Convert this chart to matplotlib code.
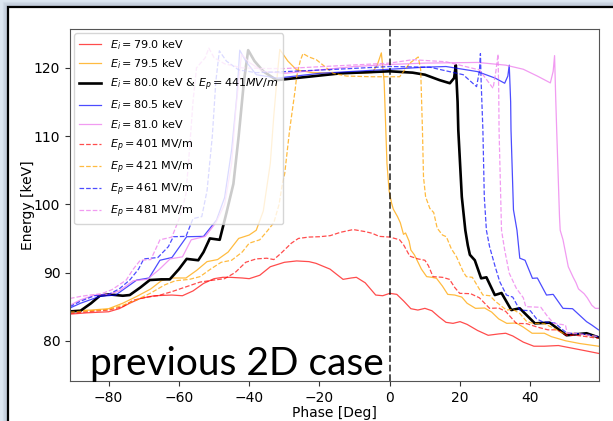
import matplotlib
matplotlib.use("Agg")
import matplotlib.pyplot as plt
from matplotlib.patches import Rectangle

# ---- data: phase [deg] and energy [keV] for each run ----
ph_ei790 = [-91, -86, -80, -77, -74, -71, -67, -62, -59, -56, -53, -50, -47.5, -45.5, -42, -40, -37, -34, -30,
            -26.5, -23, -21, -17, -13.3, -11, -9.5, -7, -4, -2, 0, 2, 4, 6, 8, 10, 12, 14, 16, 18, 20, 22, 25,
            28, 31, 33, 35, 38, 41, 44, 48, 52, 56, 59.4]
e_ei790 = [83.9, 84.1, 84.25, 84.7, 85.5, 86.2, 86.6, 86.7, 86.6, 87.3, 88.4, 89.1, 89.3, 89.3, 89.2, 89.1, 89.6,
           90.85, 91.5, 91.7, 91.6, 91.35, 90.5, 89.0, 89.2, 89.3, 88.5, 86.7, 86.6, 86.95, 86.8, 85.8, 84.7,
           84.5, 84.75, 84.4, 83.5, 82.7, 82.55, 82.8, 82.4, 81.5, 80.8, 81.0, 81.1, 80.7, 79.8, 79.2, 79.2,
           79.3, 78.9, 78.5, 78.15]

ph_ei795 = [-91, -85, -80, -76, -72, -68, -65, -62, -58, -55, -52, -49, -46, -43, -40, -38, -36, -34, -33, -32,
            -31.3, -29, -26.5, -22, -15, -8, -5, -3.5, -2.4, -1.6, -1.2, -0.8, -0.2, 0.5, 1, 2.2, 3, 3.9, 4.5,
            5.5, 6, 7, 9, 10.5, 12, 13.3, 15, 16.5, 18.5, 20.5, 22, 24.4, 27, 29, 31, 33.3, 36, 38, 40.5, 44,
            46, 50, 54, 59.4]
e_ei795 = [84.4, 84.5, 84.7, 85.5, 86.5, 87.6, 88.8, 89.2, 89.2, 90.3, 91.6, 91.9, 93.0, 95.0, 95.5, 96.2, 99,
           106, 113, 119, 122.7, 121, 119.7, 119.3, 119.2, 119.2, 119.3, 120.5, 122.2, 118, 112, 106, 102,
           100.2, 99.3, 98.2, 97.3, 95.6, 95.8, 94.6, 93.3, 92.6, 90.5, 89.4, 89.3, 89.15, 88.0, 86.8, 86.7,
           86.4, 85.5, 84.75, 84.8, 84.2, 83.2, 82.55, 82.6, 82.0, 81.1, 81.1, 80.6, 80.0, 79.6, 79.2]

ph_ei800 = [-91, -88, -85, -82.5, -80, -76, -74, -71, -68.3, -65, -62.6, -60, -57.8, -54.5, -53, -51.2, -48.4,
            -46.5, -44.5, -43, -41.5, -40.3, -38.5, -36, -32.2, -25, -14, 0, 6.5, 10, 14.2, 17.1, 18.3, 18.8,
            19.3, 19.5, 20.5, 21.5, 22.2, 22.8, 24.2, 26.0, 27.5, 29.9, 31.8, 34.6, 37, 41.3, 45.5, 50.3, 56,
            59.4]
e_ei800 = [84.3, 84.4, 85.5, 86.6, 86.8, 86.6, 86.7, 87.8, 88.9, 89.0, 89.0, 90.5, 92.0, 91.8, 93, 95.0, 94.8,
           98.7, 103, 110, 118, 122.6, 121, 119.5, 118.2, 118.6, 119.2, 119.5, 119.3, 119.0, 118.2, 117.75,
           118.5, 120.4, 115, 110.9, 101.1, 96.2, 94.0, 92.6, 91.8, 89.15, 89.3, 86.7, 87.0, 84.5, 84.75,
           82.55, 82.65, 80.8, 81.1, 80.5]

ph_ei805 = [-91, -88, -82.5, -78, -75, -72, -68.5, -65.4, -62, -57.8, -53, -49.3, -47, -45, -43.5, -42.7, -41,
            -38, -32, -20, 0, 10, 16, 25, 30, 32.7, 33.6, 34, 34.4, 34.5, 35.2, 36.2, 37, 38.5, 40.6, 42, 44.6,
            46.5, 49.3, 52, 56, 57.5, 59.4]
e_ei805 = [84.8, 85.5, 86.5, 86.7, 87.8, 88.9, 89.2, 91.8, 92.2, 95.25, 95.3, 97.7, 101, 108, 116, 122.6, 121,
           119, 118.5, 119.2, 119.8, 120.1, 120.2, 119.45, 118.5, 117.75, 118.8, 120.4, 115, 110.9, 99.2, 96.2,
           92.1, 91.8, 89.15, 89.2, 86.7, 86.8, 84.75, 84.7, 82.8, 82.3, 81.6]

ph_ei810 = [-91, -88, -84, -80, -77, -73, -69, -65.5, -62.5, -59, -56.5, -52.5, -49.5, -47, -45, -43.8, -42.2,
            -40, -36, -30, -20, -10, 0, 10, 25, 33, 38, 42, 45.7, 46.5, 46.9, 47.2, 47.5, 48.3, 48.5, 49.3,
            50.8, 52.2, 53, 53.7, 55.3, 56.2, 57.5, 58.5, 59.4]
e_ei810 = [85.2, 86.0, 86.7, 86.8, 87.3, 88.8, 89.0, 90.5, 92.0, 92.3, 94.8, 95.3, 97.3, 100, 106, 114, 122.0,
           120.8, 119.5, 119.2, 119.7, 120.2, 120.5, 120.7, 120.8, 120.4, 119.8, 118.8, 117.8, 119.5, 121.8,
           116, 110.9, 98.2, 96.2, 94.8, 90.85, 89.3, 88.5, 87.6, 86.9, 86.3, 85.2, 84.75, 84.75]

ph_ep401 = [-91, -85, -80, -76, -73, -69, -66, -62, -58, -54, -50, -47, -44, -41, -38, -35, -33, -31, -28, -26,
            -23, -20, -17, -14, -10.4, -7, -5, -3, 0, 2.8, 4, 5.7, 8, 10, 11, 12.3, 15, 17, 18.5, 19.9, 23,
            25.5, 28.4, 31, 33, 36, 39, 42, 45, 47.5, 50.3, 53, 56, 59.4]
e_ep401 = [84.0, 84.3, 84.5, 85.0, 85.95, 86.4, 86.6, 87.2, 87.9, 88.6, 88.9, 89.1, 90.0, 91.5, 92.0, 92.1,
           91.9, 92.8, 94.3, 95.0, 95.2, 95.25, 95.4, 95.9, 96.3, 96.0, 95.75, 95.3, 95.2, 94.8, 94.0, 92.4,
           92.0, 91.8, 91.0, 89.4, 89.3, 89.0, 87.8, 86.95, 86.9, 86.3, 84.75, 84.8, 84.3, 82.55, 82.5, 82.0,
           81.6, 81.6, 80.8, 80.8, 80.6, 80.35]

ph_ep421 = [-91, -85, -80, -76, -72, -68, -64, -61, -57, -54, -51, -48, -45, -42, -40, -37, -35, -33, -31.5,
            -30.5, -29.9, -28.5, -27, -26.5, -25.5, -24.7, -23, -20.9, -18.5, -16.1, -12.3, -5, 0, 2.8, 5.7,
            8.1, 8.8, 9.3, 9.6, 10.2, 11.4, 12.5, 13.5, 15, 16.1, 17.5, 19, 21, 21.8, 23.5, 25, 26.5, 28.5,
            30, 33.2, 35, 37, 39, 40.8, 44, 46, 49.3, 53, 56, 59.4]
e_ep421 = [84.2, 84.4, 84.6, 85.2, 86.0, 87.0, 88.2, 88.8, 89.0, 89.4, 90.5, 91.5, 91.8, 93, 94.3, 94.8, 96,
           97.3, 100, 103.2, 104.5, 110.9, 116.5, 118.7, 121, 122.1, 121.6, 121.2, 120.2, 119.2, 118.8, 118.7,
           118.7, 118.7, 120.7, 121.6, 119.7, 110.9, 104, 101.1, 99.4, 98.8, 96.5, 95.5, 95.25, 93.5, 92.3,
           90.0, 89.4, 89.3, 88.0, 86.7, 86.6, 85.8, 84.5, 84.6, 84.0, 82.8, 82.55, 82.5, 82.0, 81.1, 81.1,
           80.8, 80.6]

ph_ep461 = [-91, -88, -84, -80, -77, -74, -71.5, -70, -66, -63, -61.6, -58, -56, -53.5, -52, -50.5, -49.5,
            -48.5, -46.5, -43, -38, -30, -15, 0, 11.4, 20.9, 24.7, 25.5, 25.8, 26.0, 26.5, 26.9, 27.5, 28.4,
            30, 31.3, 33.2, 35, 37.0, 40, 41.8, 43.4, 47, 49, 50.5, 53, 56, 59.4]
e_ep461 = [85.0, 85.8, 86.6, 86.8, 87.6, 88.9, 90.5, 92.0, 92.2, 93.8, 95.25, 95.3, 97.9, 98.2, 102, 110, 118,
           122.5, 121, 119.7, 119.3, 119.45, 119.8, 120.2, 120.1, 119.0, 117.25, 119.5, 122.1, 118, 110.9,
           101.1, 96.2, 93.8, 90.85, 88.65, 86.7, 86.4, 84.5, 84.4, 83.2, 82.8, 82.6, 81.7, 81.1, 81.1, 80.9,
           80.6]

ph_ep481 = [-91, -88, -85.3, -82, -79, -75, -73, -71, -68, -65.4, -62, -59.7, -58, -57, -56, -55, -52.5, -51.5,
            -50, -47, -42, -35, -30, -15, 0, 6.5, 16, 25.5, 29.4, 30.2, 30.8, 31, 31.1, 31.8, 32.7, 34, 36,
            38, 38.7, 43, 45, 46.7, 50, 50.5, 54, 59.4]
e_ep481 = [86.2, 86.5, 86.7, 86.9, 87.5, 88.9, 90.5, 91.8, 91.9, 94.8, 95.2, 98.2, 101.5, 108, 115, 120, 121.5,
           122.9, 121.5, 120.6, 120.0, 119.9, 119.9, 120.3, 120.7, 121.2, 120.9, 119.7, 117.0, 119.5, 122.0,
           117, 110.9, 96.2, 93.3, 89.9, 87.7, 86.3, 85.0, 84.9, 83.5, 82.55, 82.3, 81.1, 81.0, 80.6]

labels = [r"$E_i = 79.0$ keV", r"$E_i = 79.5$ keV", r"$E_i = 80.0$ keV & $E_p = 441 MV/m$",
          r"$E_i = 80.5$ keV", r"$E_i = 81.0$ keV", r"$E_p = 401$ MV/m", r"$E_p = 421$ MV/m",
          r"$E_p = 461$ MV/m", r"$E_p = 481$ MV/m"]

series = [(ph_ei790, e_ei790, "red", "-", 0.9, 0.7),
          (ph_ei795, e_ei795, "orange", "-", 0.9, 0.75),
          (ph_ei800, e_ei800, "black", "-", 1.9, 1.0),
          (ph_ei805, e_ei805, "blue", "-", 0.9, 0.7),
          (ph_ei810, e_ei810, "violet", "-", 0.9, 0.8),
          (ph_ep401, e_ep401, "red", "--", 0.9, 0.7),
          (ph_ep421, e_ep421, "orange", "--", 0.9, 0.75),
          (ph_ep461, e_ep461, "blue", "--", 0.9, 0.7),
          (ph_ep481, e_ep481, "violet", "--", 0.9, 0.8)]

W, H = 613, 421
fig = plt.figure(figsize=(W / 100, H / 100), dpi=100, facecolor="#dce6f1")

# slide panel with a soft shadow and a dark border
for k, a in enumerate([0.05, 0.08, 0.12]):
    off = (3 - k) * 1.5
    fig.patches.append(Rectangle(((8 - off) / W, 0), 1, (H - 7 + off) / H, transform=fig.transFigure,
                                 facecolor="none", edgecolor=(0.3, 0.35, 0.45, a), lw=2.5, zorder=-2))
fig.patches.append(Rectangle((8 / W, -0.01), 1, (H - 7) / H + 0.01, transform=fig.transFigure,
                             facecolor="white", edgecolor="black", lw=1.6, zorder=-1))

ax = fig.add_axes([70 / W, 1 - 381 / H, (598.5 - 70) / W, (381 - 29) / H])
ax.set_facecolor("white")

for (px, ey, c, ls, lw, al), lab in zip(series, labels):
    ax.plot(px, ey, color=c, linestyle=ls, lw=lw, alpha=al, label=lab)

ax.axvline(0, color="black", linestyle="--", lw=1.3, alpha=0.75)

ax.set_xlim(-91, 59.4)
ax.set_ylim(74.1, 125.7)
ax.set_xticks([-80, -60, -40, -20, 0, 20, 40])
ax.set_yticks([80, 90, 100, 110, 120])
ax.tick_params(labelsize=10, color="#333333")
for s in ax.spines.values():
    s.set_color("#555555")
ax.set_xlabel("Phase [Deg]", fontsize=10, labelpad=1)
ax.set_ylabel("Energy [keV]", fontsize=10, labelpad=-1)

ax.legend(loc="upper left", fontsize=8, borderaxespad=0.4)

fig.text(90 / W, 1 - 375 / H, "previous 2D case", fontsize=28, family="Lato", va="baseline",
         color="black", zorder=5)

fig.savefig("out.png", dpi=100, facecolor=fig.get_facecolor())
